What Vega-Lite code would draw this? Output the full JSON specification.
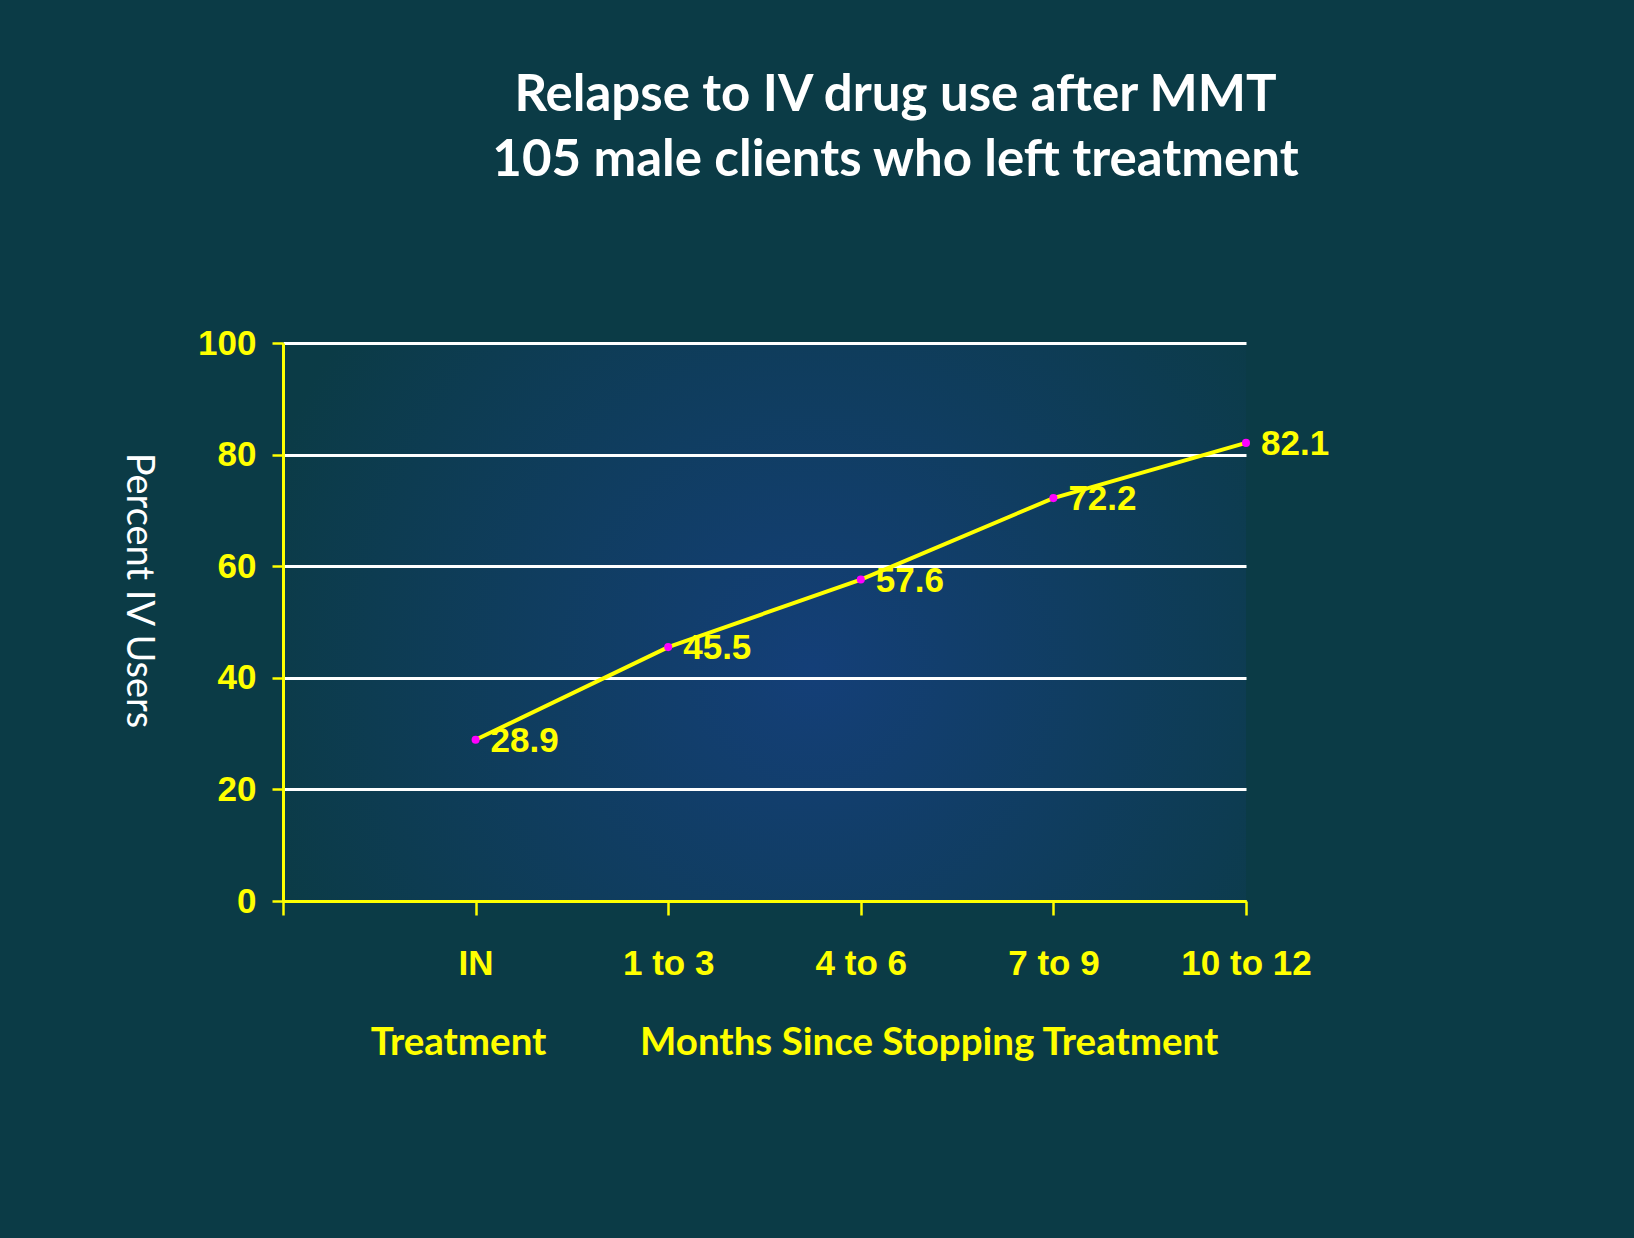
{
  "$schema": "https://vega.github.io/schema/vega-lite/v6.json",
  "autosize": {"type": "none"},
  "width": 963,
  "height": 558,
  "padding": {"left": 283, "top": 343, "right": 388, "bottom": 337},
  "background": "#0b3b46",
  "title": {
    "text": ["Relapse to IV drug use after MMT", "105 male clients who left treatment"],
    "color": "#ffffff",
    "font": "Lato",
    "fontWeight": "bold",
    "fontSize": 51,
    "lineHeight": 65,
    "anchor": "middle",
    "frame": "group",
    "dx": 131,
    "offset": 139
  },
  "config": {
    "view": {
      "stroke": null,
      "fill": {
        "gradient": "radial",
        "x1": 0.55, "y1": 0.55, "r1": 0,
        "x2": 0.55, "y2": 0.55, "r2": 0.6,
        "stops": [
          {"offset": 0, "color": "#143f78"},
          {"offset": 1, "color": "#0b3b46"}
        ]
      }
    }
  },
  "data": {
    "values": [
      {"period": "IN", "pct": 28.9},
      {"period": "1 to 3", "pct": 45.5},
      {"period": "4 to 6", "pct": 57.6},
      {"period": "7 to 9", "pct": 72.2},
      {"period": "10 to 12", "pct": 82.1}
    ]
  },
  "encoding": {
    "x": {
      "field": "period",
      "type": "ordinal",
      "scale": {"type": "point", "domain": [" ", "IN", "1 to 3", "4 to 6", "7 to 9", "10 to 12"], "padding": 0},
      "axis": {
        "title": "Treatment\u00a0\u00a0\u00a0\u00a0\u00a0\u00a0\u00a0\u00a0\u00a0\u00a0Months Since Stopping Treatment",
        "titleColor": "#ffff00",
        "titleFont": "Lato",
        "titleFontWeight": "bold",
        "titleFontSize": 38.5,
        "titleX": 511,
        "titleY": 153,
        "titleAlign": "center",
        "titleBaseline": "alphabetic",
        "labelAngle": 0,
        "labelColor": "#ffff00",
        "labelFont": "Liberation Sans",
        "labelFontWeight": "bold",
        "labelFontSize": 35,
        "labelPadding": 31,
        "domainColor": "#ffff00",
        "domainWidth": 3,
        "tickColor": "#ffff00",
        "tickWidth": 2.5,
        "tickSize": 14,
        "grid": false
      }
    },
    "y": {
      "field": "pct",
      "type": "quantitative",
      "scale": {"domain": [0, 100]},
      "axis": {
        "values": [0, 20, 40, 60, 80, 100],
        "title": "Percent IV Users",
        "titleColor": "#ffffff",
        "titleFont": "Lato",
        "titleFontWeight": "normal",
        "titleFontSize": 38,
        "titleAngle": 90,
        "titleX": -146,
        "titleY": 247,
        "titleAlign": "center",
        "titleBaseline": "middle",
        "labelColor": "#ffff00",
        "labelFont": "Liberation Sans",
        "labelFontWeight": "bold",
        "labelFontSize": 35,
        "labelPadding": 16,
        "domainColor": "#ffff00",
        "domainWidth": 3,
        "tickColor": "#ffff00",
        "tickWidth": 2.5,
        "tickSize": 11,
        "gridColor": "#ffffff",
        "gridWidth": 3,
        "gridOpacity": 1
      }
    }
  },
  "layer": [
    {"mark": {"type": "line", "color": "#ffff00", "strokeWidth": 4}},
    {"mark": {"type": "point", "filled": true, "color": "#ff00ff", "size": 65, "opacity": 1}},
    {
      "mark": {
        "type": "text",
        "align": "left",
        "baseline": "middle",
        "dx": 15,
        "dy": 1,
        "color": "#ffff00",
        "font": "Liberation Sans",
        "fontWeight": "bold",
        "fontSize": 35
      },
      "encoding": {"text": {"field": "pct", "type": "quantitative", "format": ".1f"}}
    }
  ]
}
